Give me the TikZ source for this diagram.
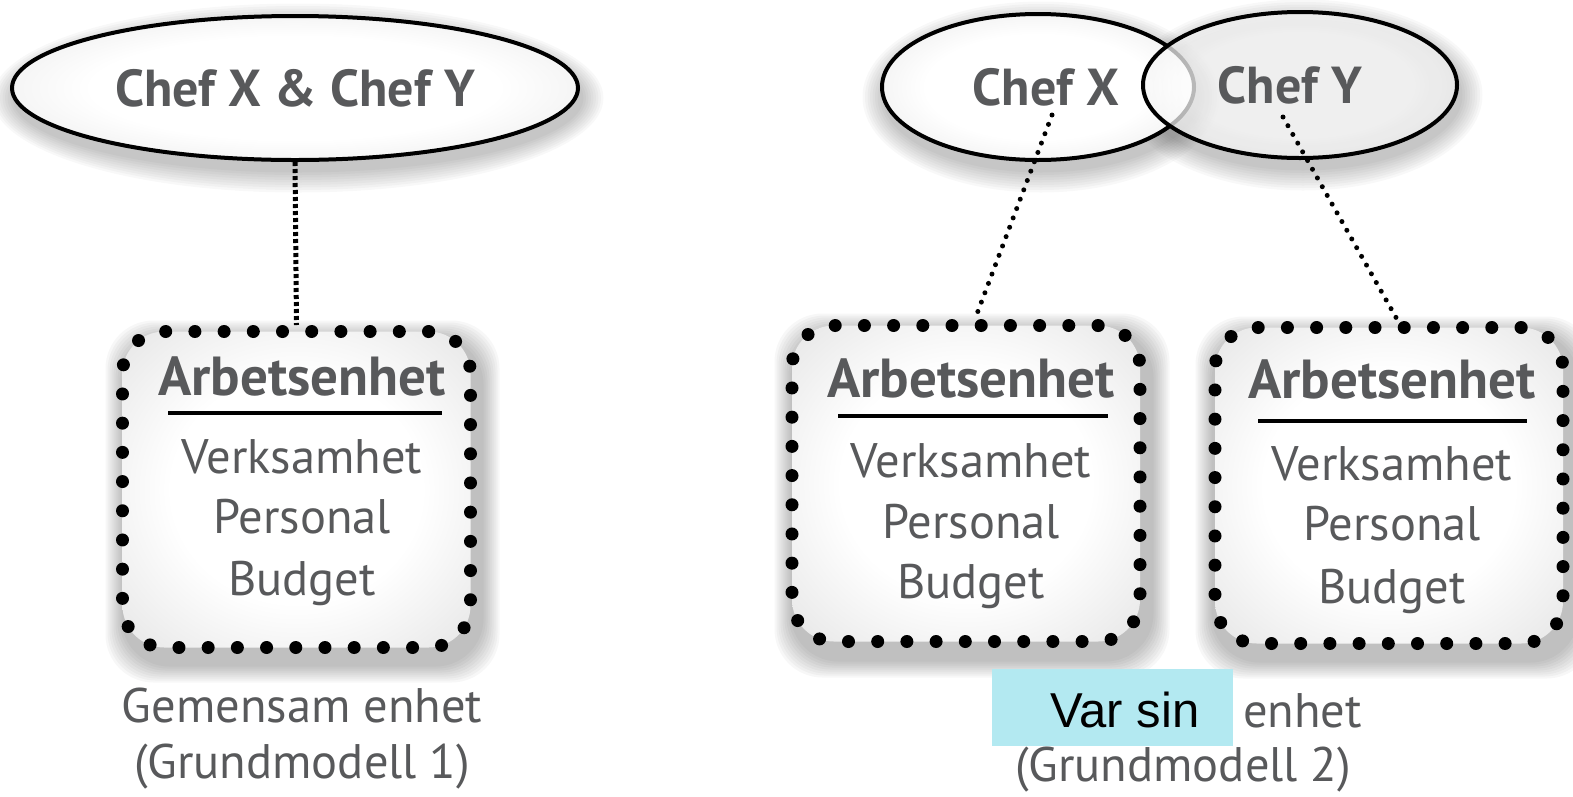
\documentclass[tikz,border=0pt]{standalone}
\usepackage{fontspec}
\setmainfont{PT Sans}
\newfontfamily\arialfont{Liberation Sans}
\usetikzlibrary{shapes.geometric,calc}
\definecolor{txtgray}{HTML}{58595B}
\definecolor{cyanbox}{HTML}{B3E9F1}
\pgfdeclareradialshading{softball}{\pgfpoint{0bp}{0bp}}{color(0bp)=(white); color(18bp)=(white); color(36bp)=(gray!20); color(50bp)=(gray!38); color(80bp)=(gray!38)}
\newcommand\boxshade[4]{\foreach \i in {1,...,9}{\fill[black,opacity=0.03,rounded corners=48pt] ({#1+6-2*\i},{#2+12-2*\i}) rectangle ({#3+6+2*\i},{#4+12+2*\i});}}
\newcommand\ellshade[4]{\foreach \i in {1,...,9}{\fill[black,opacity=0.028] ({#1+3},{#2+10}) ellipse ({#3+2.5*\i} and {#4+2.5*\i});}}
\begin{document}
\begin{tikzpicture}[x=1pt,y=-1pt,
  chef/.style={ellipse, draw=black, line width=4pt, shading=softball, inner sep=0pt, text=txtgray, font=\fontsize{52}{60}\selectfont\bfseries},
  unitbox/.style={rectangle, rounded corners=42pt, draw=black, line width=13pt, dash pattern=on 0pt off 29.2pt, line cap=round, shading=softball, minimum width=348pt, minimum height=316pt},
  title/.style={text=txtgray, font=\fontsize{55}{60}\selectfont\bfseries, anchor=base, inner sep=0pt},
  item/.style={text=txtgray, font=\fontsize{48.5}{54}\selectfont, anchor=base, inner sep=0pt},
  uline/.style={line width=3.2pt},
  link/.style={line width=5pt, dash pattern=on 4pt off 3pt},
  thinlink/.style={line width=5pt, dash pattern=on 0pt off 10pt, line cap=round}]
\useasboundingbox (0,0) rectangle (1573,796);
% shadows
\ellshade{295}{88}{283}{72}
\ellshade{1038}{87}{156}{73}
\ellshade{1300}{85}{157}{73}
\boxshade{117.5}{326.5}{475.5}{652.5}
\boxshade{786.5}{319.5}{1145.5}{647.5}
\boxshade{1207.5}{322.5}{1570.5}{648.5}
% ellipses
\node[chef, minimum width=566pt, minimum height=144pt] (cxy) at (295,88) {Chef X \& Chef Y};
\node[chef, minimum width=312pt, minimum height=146pt] (cx) at (1038,87) {\hspace*{16pt}Chef X};
\node[chef, minimum width=314pt, minimum height=146pt, fill opacity=0.72, text opacity=1] (cy) at (1300,85) {Chef Y\hspace*{20pt}};
% boxes
\node[unitbox] (boxA) at (296.5,489.5) {};
\node[unitbox] (boxB) at (966,483.5) {};
\node[unitbox] (boxC) at (1389,485.5) {};
% box A text
\node[title] (tA) at (302,395) {Arbetsenhet};
\draw[uline] (168,413) -- (442,413);
\node[item] (vA) at (302,473) {Verksamhet};
\node[item] (pA) at (302,533) {Personal};
\node[item] (bA) at (302,595) {Budget};
% box B text
\node[title] (tB) at (971,397) {Arbetsenhet};
\draw[uline] (838,416) -- (1108,416);
\node[item] (vB) at (971,477) {Verksamhet};
\node[item] (pB) at (971,538) {Personal};
\node[item] (bB) at (971,598) {Budget};
% box C text
\node[title] (tC) at (1392,398) {Arbetsenhet};
\draw[uline] (1258,421) -- (1527,421);
\node[item] (vC) at (1392,480) {Verksamhet};
\node[item] (pC) at (1392,540) {Personal};
\node[item] (bC) at (1392,603) {Budget};
% connectors
\coordinate (xdot) at (1052,115);
\coordinate (ydot) at (1283,117);
\draw[link] (cxy.south) -- (boxA.north);
\draw[thinlink] (xdot) -- ([xshift=9pt]boxB.north);
\draw[thinlink] (ydot) -- ([xshift=9pt]boxC.north);
% captions
\node[item] (capA1) at (302,722) {Gemensam enhet};
\node[item] (capA2) at (302,778) {(Grundmodell 1)};
\node[item] (capB1) at (1302.5,727) {enhet};
\node[item] (capB2) at (1183,781) {(Grundmodell 2)};
\node[fill=cyanbox, minimum width=241pt, minimum height=77pt, inner sep=0pt] (cyanbg) at (1112,707.5) {};
\node[anchor=base, inner sep=0pt, font=\arialfont\fontsize{49}{56}\selectfont] (varsin) at (1125,727) {Var sin};
\end{tikzpicture}
\end{document}
